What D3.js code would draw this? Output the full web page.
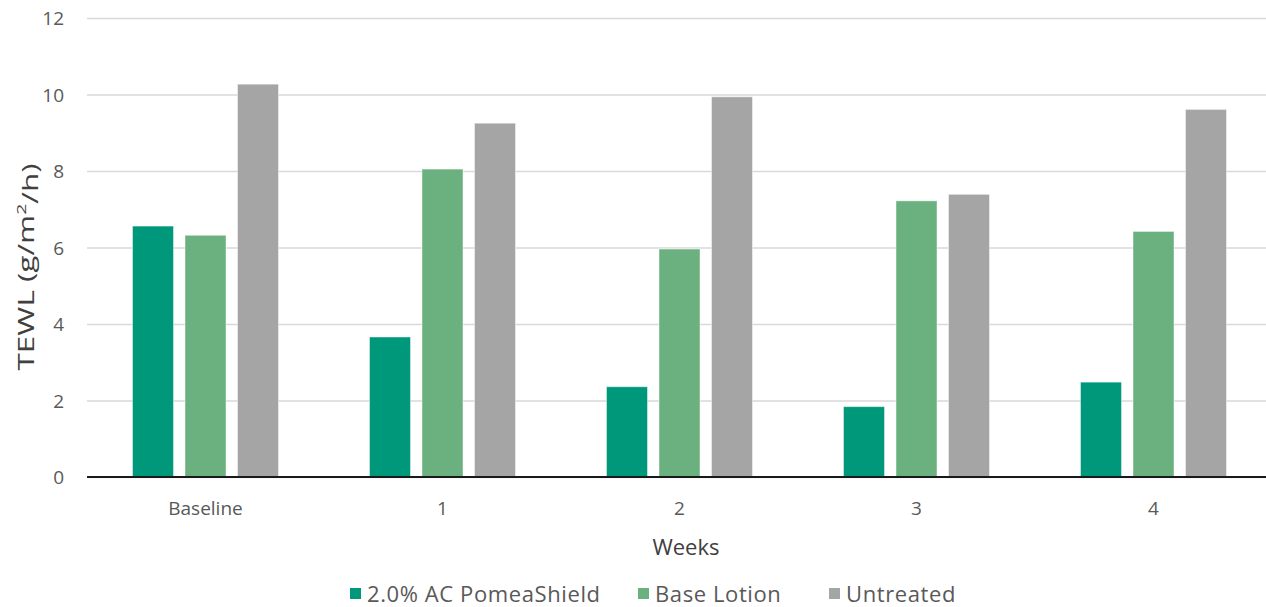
<!DOCTYPE html>
<html>
<head>
<meta charset="utf-8">
<script src="https://cdn.jsdelivr.net/npm/d3@7"></script>
<style>
  html, body { margin: 0; padding: 0; background: #fff; }
  svg { display: block; }
  svg text { font-family: "Open Sans", "Noto Sans", sans-serif; }
</style>
</head>
<body>
<svg id="chart" width="1266" height="607"></svg>
<script>
// TEWL readings per visit
const categories = ["Baseline", "1", "2", "3", "4"];
const seriesNames = ["2.0% AC PomeaShield", "Base Lotion", "Untreated"];
const pomeaShield = [6.56, 3.66, 2.36, 1.84, 2.48];
const baseLotion = [6.32, 8.05, 5.96, 7.22, 6.42];
const untreated = [10.27, 9.25, 9.94, 7.39, 9.61];
const yTicks = [0, 2, 4, 6, 8, 10, 12];
const colors = ["#00987A", "#6BB17F", "#A5A5A5"];

const series = [pomeaShield, baseLotion, untreated];
const FONT = '"Open Sans", "Noto Sans", sans-serif';

const svg = d3.select("#chart");
const margin = { left: 87, right: 1272, top: 18, bottom: 477 };

const x = d3.scaleBand()
  .domain(categories)
  .range([margin.left, margin.right])
  .paddingInner(0)
  .paddingOuter(0);

const barW = 41, barGap = 11.5;
const groupW = barW * 3 + barGap * 2;

const y = d3.scaleLinear().domain([0, 12]).range([margin.bottom, margin.top]);

// gridlines + value labels
const yAxis = d3.axisLeft(y).tickValues(yTicks).tickSize(-(margin.right - margin.left)).tickFormat(d3.format("d"));
const gy = svg.append("g").attr("transform", `translate(${margin.left},0)`).call(yAxis)
  .attr("font-family", FONT);
gy.select(".domain").remove();
gy.selectAll(".tick line").attr("stroke", "#D9D9D9").attr("stroke-width", 1.5);
gy.selectAll(".tick text")
  .attr("x", -23).attr("dy", "0.36em")
  .attr("fill", "#595959").attr("font-size", 19);

// bars
series.forEach((vals, si) => {
  svg.append("g").selectAll("rect")
    .data(vals.map((v, i) => ({ cat: categories[i], v })))
    .join("rect")
    .attr("x", d => x(d.cat) + (x.bandwidth() - groupW) / 2 + si * (barW + barGap))
    .attr("y", d => y(d.v))
    .attr("width", barW)
    .attr("height", d => y(0) - y(d.v))
    .attr("fill", colors[si])
    .attr("stroke", "#ffffff")
    .attr("stroke-opacity", 0.45)
    .attr("stroke-width", 1);
});

// category axis
const xAxis = d3.axisBottom(x).tickSize(0).tickPadding(0);
const gx = svg.append("g").attr("transform", `translate(0,${y(0)})`).call(xAxis)
  .attr("font-family", FONT);
gx.select(".domain").attr("stroke", "#1a1a1a").attr("stroke-width", 2)
  .attr("d", `M${margin.left},0H${margin.right}`);
gx.selectAll(".tick text").attr("y", 31).attr("dy", "0.36em")
  .attr("fill", "#595959").attr("font-size", 19);

// axis titles
svg.append("text")
  .attr("x", 686).attr("y", 547)
  .attr("text-anchor", "middle").attr("dy", "0.36em")
  .attr("fill", "#404040").attr("font-size", 22)
  .text("Weeks");

const yt = svg.append("text")
  .attr("transform", `translate(26,267) rotate(-90)`)
  .attr("text-anchor", "middle").attr("dy", "0.36em")
  .attr("fill", "#404040").attr("font-size", 21)
  .attr("textLength", 207).attr("lengthAdjust", "spacingAndGlyphs");
yt.append("tspan").text("TEWL (g/m");
yt.append("tspan").attr("font-size", 13).attr("dy", "-0.6em").text("2");
yt.append("tspan").attr("dy", "0.6em").text("/h)");

// legend
const legendX = [350, 638, 829];
const lg = svg.append("g");
seriesNames.forEach((name, i) => {
  lg.append("rect").attr("x", legendX[i]).attr("y", 588).attr("width", 11).attr("height", 11).attr("fill", colors[i]);
  lg.append("text").attr("x", legendX[i] + 17).attr("y", 594).attr("dy", "0.36em")
    .attr("fill", "#595959").attr("font-size", 22).attr("letter-spacing", 0.6).text(name);
});
</script>
</body>
</html>
